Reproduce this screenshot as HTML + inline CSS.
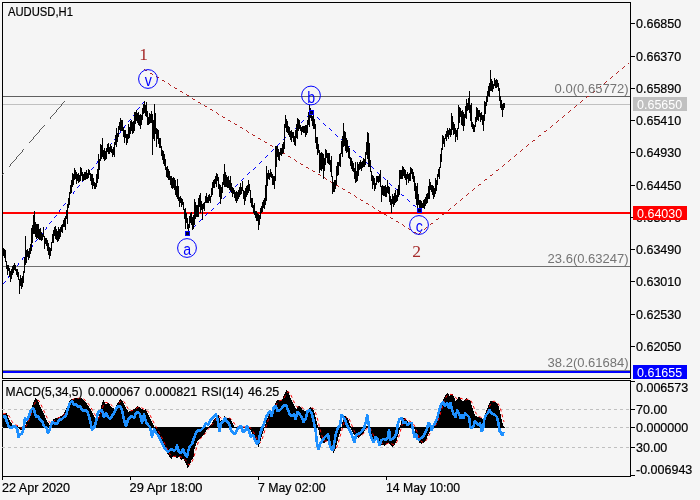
<!DOCTYPE html><html><head><meta charset="utf-8"><title>AUDUSD,H1</title>
<style>html,body{margin:0;padding:0;background:#f5f5f5}svg{display:block}text{font-family:"Liberation Sans",Arial,sans-serif;font-size:12.5px;stroke:#000;stroke-width:.2px}.s,.w,.g,.n{stroke:none}.s{font-family:"Liberation Serif","Times New Roman",serif;font-size:17.5px;fill:#a52a2a}.w{font-family:"Liberation Sans",Arial,sans-serif;font-size:16.5px;fill:#0000ff}.g{fill:#757575}</style></head><body>
<svg width="700" height="500" viewBox="0 0 700 500">
<rect width="700" height="500" fill="#f5f5f5"/>
<g shape-rendering="crispEdges" fill="none" stroke="#000" stroke-width="1">
<path d="M2.5 2V379M2 2.5H631M630.5 2V379M2 378.5H631"/>
<path d="M2.5 380V477M2 380.5H631M630.5 380V477M2 476.5H631"/>
<path d="M631 23.5H635"/>
<path d="M631 56.5H635"/>
<path d="M631 88.5H635"/>
<path d="M631 120.5H635"/>
<path d="M631 152.5H635"/>
<path d="M631 185.5H635"/>
<path d="M631 217.5H635"/>
<path d="M631 249.5H635"/>
<path d="M631 281.5H635"/>
<path d="M631 314.5H635"/>
<path d="M631 346.5H635"/>
<path d="M631 381.5H635"/>
<path d="M631 409.5H635"/>
<path d="M631 427.5H635"/>
<path d="M631 447.5H635"/>
<path d="M631 475.5H635"/>
<path d="M2.5 477V480"/>
<path d="M130.5 477V480"/>
<path d="M258.5 477V480"/>
<path d="M386.5 477V480"/>
</g>
<g shape-rendering="crispEdges">
<rect x="3" y="96" width="627" height="1" fill="#606060"/>
<rect x="3" y="104" width="627" height="1" fill="#c0c0c0"/>
<rect x="3" y="266" width="627" height="1" fill="#707070"/>
<rect x="3" y="370" width="627" height="1" fill="#808080"/>
<rect x="3" y="371" width="627" height="2" fill="#0000ff"/>
<rect x="3" y="212" width="627" height="2" fill="#ff0000"/>
<path d="M2 409.5H630M2 427.5H630M2 447.5H630" stroke="#c0c0c0" stroke-dasharray="3 3" fill="none"/>
</g>
<path d="M64 101.5h1M63 102.5h1M62 103.5h1M61 104.5h1M61 105.5h1M60 106.5h1M59 107.5h1M58 108.5h1M57 109.5h1M56 110.5h1M56 111.5h1M55 112.5h1M54 113.5h1M53 114.5h1M52 115.5h1M51 116.5h1M50 117.5h1M50 118.5h1M44 125.5h1M43 126.5h1M42 127.5h1M41 128.5h1M40 129.5h1M39 130.5h1M39 131.5h1M38 132.5h1M37 133.5h1M36 134.5h1M35 135.5h1M34 136.5h1M33 137.5h1M33 138.5h1M32 139.5h1M31 140.5h1M30 141.5h1M29 142.5h1M23 149.5h1M22 150.5h1M22 151.5h1M21 152.5h1M20 153.5h1M19 154.5h1M18 155.5h1M17 156.5h1M16 157.5h1M16 158.5h1M15 159.5h1M14 160.5h1M13 161.5h1M12 162.5h1M11 163.5h1M10 164.5h1M10 165.5h1M9 166.5h1M3 173.5h1M2 174.5h1" stroke="#5c5c5c" stroke-width="1" fill="none" shape-rendering="crispEdges"/>
<g fill="none" stroke-width="1" shape-rendering="crispEdges">
<path d="M3 283.5h1M4 282.5h1M5 281.5h1M8 277.5h1M8 276.5h1M9 275.5h1M12 271.5h1M13 270.5h1M14 269.5h1M17 265.5h1M18 264.5h1M18 263.5h1M22 259.5h1M22 258.5h1M23 257.5h1M26 253.5h1M27 252.5h1M28 251.5h1M31 247.5h1M32 246.5h1M32 245.5h1M35 241.5h1M36 240.5h1M37 239.5h1M40 235.5h1M41 234.5h1M42 233.5h1M45 229.5h1M46 228.5h1M46 227.5h1M49 223.5h1M50 222.5h1M51 221.5h1M54 217.5h1M55 216.5h1M56 215.5h1M59 211.5h1M59 210.5h1M60 209.5h1M63 205.5h1M64 204.5h1M65 203.5h1M68 199.5h1M69 198.5h1M69 197.5h1M73 193.5h1M73 192.5h1M74 191.5h1M77 187.5h1M78 186.5h1M79 185.5h1M82 181.5h1M83 180.5h1M83 179.5h1M86 175.5h1M87 174.5h1M88 173.5h1M91 169.5h1M92 168.5h1M93 167.5h1M96 163.5h1M97 162.5h1M97 161.5h1M100 157.5h1M101 156.5h1M102 155.5h1M105 151.5h1M106 150.5h1M107 149.5h1M110 145.5h1M110 144.5h1M111 143.5h1M114 139.5h1M115 138.5h1M116 137.5h1M119 133.5h1M120 132.5h1M120 131.5h1M124 127.5h1M124 126.5h1M125 125.5h1M128 121.5h1M129 120.5h1M130 119.5h1M133 115.5h1M134 114.5h1M134 113.5h1M137 109.5h1M138 108.5h1M139 107.5h1M142 103.5h1M143 102.5h1M144 101.5h1M187 233.5h1M188 232.5h1M189 231.5h1M193 227.5h1M194 226.5h1M195 225.5h1M199 221.5h1M200 220.5h1M201 219.5h1M205 215.5h1M206 214.5h1M207 213.5h1M211 210.5h1M212 209.5h1M213 208.5h1M217 204.5h1M218 203.5h1M219 202.5h1M223 198.5h1M224 197.5h1M225 196.5h1M229 192.5h1M230 191.5h1M231 190.5h1M235 186.5h1M236 185.5h1M237 184.5h1M241 180.5h1M242 179.5h1M243 178.5h1M247 174.5h1M248 173.5h1M249 172.5h1M253 169.5h1M254 168.5h1M255 167.5h1M259 163.5h1M260 162.5h1M261 161.5h1M265 157.5h1M266 156.5h1M267 155.5h1M271 151.5h1M272 150.5h1M273 149.5h1M277 145.5h1M278 144.5h1M279 143.5h1M283 139.5h1M284 138.5h1M285 137.5h1M289 133.5h1M290 132.5h1M291 132.5h1M295 128.5h1M296 127.5h1M297 126.5h1M301 122.5h1M302 121.5h1M303 120.5h1M307 116.5h1M308 115.5h1M309 114.5h1M311 112.5h1M312 113.5h1M313 114.5h1M317 117.5h1M318 118.5h1M319 119.5h1M323 123.5h1M324 124.5h1M325 125.5h1M329 128.5h1M330 129.5h1M331 130.5h1M335 134.5h1M336 135.5h1M337 136.5h1M341 139.5h1M342 140.5h1M343 141.5h1M347 145.5h1M348 146.5h1M349 146.5h1M353 150.5h1M354 151.5h1M355 152.5h1M359 156.5h1M360 156.5h1M361 157.5h1M365 161.5h1M366 162.5h1M367 163.5h1M371 166.5h1M372 167.5h1M373 168.5h1M377 172.5h1M378 173.5h1M379 174.5h1M383 177.5h1M384 178.5h1M385 179.5h1M389 183.5h1M390 184.5h1M391 185.5h1M395 188.5h1M396 189.5h1M397 190.5h1M401 194.5h1M402 195.5h1M403 195.5h1M407 199.5h1M408 200.5h1M409 201.5h1M413 205.5h1M414 205.5h1M415 206.5h1M419 210.5h1" stroke="#0000ff"/>
<path d="M144 69.5h1M145 70.5h1M146 70.5h1M150 73.5h1M151 73.5h1M152 74.5h1M156 76.5h1M157 77.5h1M158 77.5h1M162 80.5h1M163 80.5h1M164 81.5h1M168 83.5h1M169 84.5h1M170 85.5h1M174 87.5h1M175 88.5h1M176 88.5h1M180 91.5h1M181 91.5h1M182 92.5h1M186 94.5h1M187 95.5h1M188 95.5h1M192 98.5h1M193 99.5h1M194 99.5h1M198 102.5h1M199 102.5h1M200 103.5h1M204 105.5h1M205 106.5h1M206 106.5h1M210 109.5h1M211 109.5h1M212 110.5h1M216 112.5h1M217 113.5h1M218 114.5h1M222 116.5h1M223 117.5h1M224 117.5h1M228 120.5h1M229 120.5h1M230 121.5h1M234 123.5h1M235 124.5h1M236 124.5h1M240 127.5h1M241 127.5h1M242 128.5h1M246 130.5h1M247 131.5h1M248 132.5h1M252 134.5h1M253 135.5h1M254 135.5h1M258 138.5h1M259 138.5h1M260 139.5h1M264 141.5h1M265 142.5h1M266 142.5h1M270 145.5h1M271 145.5h1M272 146.5h1M276 148.5h1M277 149.5h1M278 150.5h1M282 152.5h1M283 153.5h1M284 153.5h1M288 156.5h1M289 156.5h1M290 157.5h1M294 159.5h1M295 160.5h1M296 161.5h1M300 163.5h1M301 164.5h1M302 164.5h1M306 167.5h1M307 167.5h1M308 168.5h1M312 170.5h1M313 171.5h1M314 171.5h1M318 174.5h1M319 174.5h1M320 175.5h1M324 177.5h1M325 178.5h1M326 179.5h1M330 181.5h1M331 182.5h1M332 182.5h1M336 185.5h1M337 185.5h1M338 186.5h1M342 188.5h1M343 189.5h1M344 189.5h1M348 192.5h1M349 192.5h1M350 193.5h1M354 195.5h1M355 196.5h1M356 197.5h1M360 199.5h1M361 200.5h1M362 200.5h1M366 203.5h1M367 203.5h1M368 204.5h1M372 206.5h1M373 207.5h1M374 208.5h1M378 210.5h1M379 211.5h1M380 211.5h1M384 214.5h1M385 214.5h1M386 215.5h1M390 217.5h1M391 218.5h1M392 218.5h1M396 221.5h1M397 221.5h1M398 222.5h1M402 224.5h1M403 225.5h1M404 226.5h1M408 228.5h1M409 229.5h1M410 229.5h1M414 232.5h1M415 232.5h1M416 233.5h1M418 234.5h1M419 233.5h1M420 232.5h1M424 229.5h1M425 228.5h1M426 227.5h1M430 224.5h1M431 223.5h1M432 223.5h1M436 219.5h1M437 219.5h1M438 218.5h1M442 214.5h1M443 214.5h1M444 213.5h1M448 210.5h1M449 209.5h1M450 208.5h1M454 205.5h1M455 204.5h1M456 203.5h1M460 200.5h1M461 199.5h1M462 198.5h1M466 195.5h1M467 194.5h1M468 193.5h1M472 190.5h1M473 189.5h1M474 188.5h1M478 185.5h1M479 184.5h1M480 184.5h1M484 180.5h1M485 179.5h1M486 179.5h1M490 175.5h1M491 175.5h1M492 174.5h1M496 170.5h1M497 170.5h1M498 169.5h1M502 166.5h1M503 165.5h1M504 164.5h1M508 161.5h1M509 160.5h1M510 159.5h1M514 156.5h1M515 155.5h1M516 154.5h1M520 151.5h1M521 150.5h1M522 149.5h1M526 146.5h1M527 145.5h1M528 144.5h1M532 141.5h1M533 140.5h1M534 140.5h1M538 136.5h1M539 135.5h1M540 135.5h1M544 131.5h1M545 131.5h1M546 130.5h1M550 127.5h1M551 126.5h1M552 125.5h1M556 122.5h1M557 121.5h1M558 120.5h1M562 117.5h1M563 116.5h1M564 115.5h1M568 112.5h1M569 111.5h1M570 110.5h1M574 107.5h1M575 106.5h1M576 105.5h1M580 102.5h1M581 101.5h1M582 100.5h1M586 97.5h1M587 96.5h1M588 96.5h1M592 92.5h1M593 92.5h1M594 91.5h1M598 87.5h1M599 87.5h1M600 86.5h1M604 83.5h1M605 82.5h1M606 81.5h1M610 78.5h1M611 77.5h1M612 76.5h1M616 73.5h1M617 72.5h1M618 71.5h1M622 68.5h1M623 67.5h1M624 66.5h1M628 63.5h1" stroke="#b22222"/>
</g>
<path d="M3.5 248V256M4.5 249V258M5.5 250V262M6.5 261V269M7.5 265V275M8.5 265V271M9.5 268V277M10.5 271V282M11.5 269V279M12.5 266V275M13.5 265V273M14.5 263V270M15.5 265V271M16.5 269V275M17.5 269V277M18.5 272V280M19.5 279V294M20.5 275V286M21.5 278V289M22.5 276V287M23.5 271V283M24.5 257V273M25.5 236V265M26.5 250V263M27.5 249V257M28.5 251V260M29.5 248V258M30.5 244V254M31.5 228V251M32.5 225V243M33.5 215V234M34.5 211V234M35.5 222V237M36.5 224V239M37.5 224V238M38.5 224V239M39.5 229V240M40.5 228V240M41.5 232V241M42.5 234V240M43.5 227V237M44.5 236V249M45.5 238V244M46.5 238V246M47.5 240V251M48.5 243V255M49.5 247V259M50.5 248V256M51.5 242V251M52.5 234V243M53.5 230V243M54.5 227V236M55.5 226V239M56.5 229V240M57.5 231V242M58.5 227V241M59.5 229V239M60.5 227V237M61.5 225V232M62.5 224V233M63.5 220V227M64.5 218V227M65.5 216V230M66.5 210V219M67.5 204V224M68.5 198V208M69.5 192V205M70.5 185V194M71.5 180V193M72.5 173V187M73.5 174V185M74.5 168V180M75.5 170V179M76.5 172V184M77.5 174V181M78.5 173V183M79.5 175V182M80.5 167V181M81.5 168V176M82.5 172V181M83.5 174V181M84.5 172V180M85.5 172V180M86.5 170V179M87.5 173V179M88.5 169V178M89.5 170V175M90.5 173V181M91.5 174V185M92.5 174V189M93.5 178V186M94.5 182V189M95.5 183V189M96.5 174V187M97.5 169V183M98.5 154V179M99.5 159V170M100.5 144V161M101.5 145V159M102.5 138V157M103.5 150V159M104.5 148V161M105.5 151V160M106.5 148V159M107.5 144V152M108.5 143V154M109.5 147V154M110.5 144V152M111.5 146V153M112.5 149V157M113.5 147V155M114.5 142V157M115.5 135V145M116.5 128V147M117.5 133V142M118.5 126V137M119.5 122V130M120.5 118V131M121.5 120V131M122.5 120V131M123.5 127V137M124.5 130V143M125.5 130V138M126.5 134V145M127.5 134V143M128.5 124V139M129.5 127V138M130.5 121V134M131.5 120V131M132.5 122V134M133.5 121V133M134.5 112V131M135.5 112V124M136.5 110V121M137.5 113V123M138.5 112V125M139.5 115V126M140.5 114V129M141.5 115V125M142.5 108V120M143.5 104V114M144.5 101V113M145.5 105V116M146.5 102V117M147.5 111V125M148.5 117V125M149.5 113V124M150.5 114V123M151.5 111V123M152.5 114V155M153.5 120V139M154.5 104V141M155.5 113V134M156.5 128V147M157.5 129V139M158.5 130V144M159.5 138V148M160.5 138V148M161.5 146V156M162.5 150V160M163.5 151V164M164.5 154V166M165.5 159V170M166.5 167V177M167.5 166V178M168.5 169V180M169.5 171V180M170.5 176V185M171.5 176V188M172.5 178V189M173.5 177V188M174.5 178V190M175.5 180V195M176.5 186V197M177.5 179V199M178.5 186V201M179.5 197V207M180.5 196V203M181.5 198V207M182.5 199V205M183.5 202V210M184.5 209V219M185.5 208V229M186.5 213V223M187.5 218V229M188.5 224V231M189.5 216V228M190.5 213V223M191.5 212V225M192.5 217V230M193.5 215V229M194.5 199V225M195.5 202V219M196.5 205V217M197.5 205V217M198.5 198V217M199.5 195V207M200.5 193V213M201.5 201V210M202.5 204V220M203.5 203V209M204.5 202V211M205.5 196V203M206.5 193V203M207.5 197V203M208.5 195V203M209.5 194V201M210.5 196V203M211.5 188V197M212.5 182V195M213.5 180V188M214.5 179V188M215.5 176V184M216.5 173V187M217.5 174V181M218.5 177V189M219.5 184V197M220.5 185V204M221.5 187V199M222.5 182V193M223.5 174V185M224.5 164V187M225.5 172V187M226.5 175V187M227.5 177V188M228.5 176V188M229.5 180V190M230.5 176V191M231.5 183V193M232.5 187V197M233.5 188V194M234.5 190V198M235.5 192V201M236.5 191V203M237.5 192V201M238.5 190V199M239.5 187V197M240.5 183V195M241.5 187V194M242.5 181V191M243.5 190V199M244.5 191V205M245.5 188V201M246.5 186V197M247.5 185V195M248.5 180V193M249.5 184V191M250.5 190V203M251.5 198V207M252.5 198V208M253.5 205V213M254.5 203V215M255.5 211V218M256.5 211V221M257.5 213V221M258.5 214V230M259.5 215V225M260.5 208V219M261.5 206V213M262.5 202V212M263.5 200V208M264.5 198V209M265.5 185V205M266.5 166V201M267.5 173V186M268.5 170V179M269.5 173V180M270.5 169V177M271.5 172V178M272.5 174V185M273.5 176V185M274.5 176V189M275.5 146V181M276.5 146V167M277.5 146V157M278.5 149V160M279.5 152V161M280.5 148V155M281.5 148V156M282.5 144V154M283.5 142V153M284.5 124V149M285.5 115V128M286.5 119V132M287.5 121V133M288.5 126V135M289.5 127V137M290.5 131V140M291.5 130V142M292.5 132V138M293.5 132V142M294.5 136V145M295.5 130V146M296.5 124V138M297.5 118V139M298.5 119V131M299.5 120V129M300.5 125V131M301.5 127V135M302.5 126V132M303.5 126V133M304.5 126V133M305.5 125V137M306.5 125V135M307.5 120V133M308.5 112V125M309.5 105V127M310.5 108V118M311.5 110V121M312.5 116V126M313.5 114V129M314.5 119V129M315.5 124V143M316.5 137V149M317.5 137V155M318.5 144V153M319.5 150V173M320.5 153V170M321.5 152V171M322.5 153V169M323.5 154V179M324.5 158V171M325.5 149V165M326.5 150V158M327.5 153V163M328.5 153V164M329.5 153V165M330.5 160V172M331.5 156V177M332.5 176V194M333.5 182V192M334.5 180V192M335.5 180V189M336.5 166V185M337.5 162V176M338.5 162V175M339.5 154V166M340.5 153V167M341.5 141V154M342.5 136V157M343.5 123V147M344.5 131V146M345.5 132V151M346.5 138V153M347.5 140V152M348.5 146V158M349.5 148V159M350.5 157V166M351.5 158V169M352.5 161V171M353.5 163V172M354.5 168V179M355.5 162V183M356.5 171V182M357.5 162V181M358.5 164V176M359.5 162V170M360.5 160V169M361.5 162V171M362.5 161V168M363.5 158V167M364.5 159V167M365.5 152V165M366.5 142V155M367.5 132V159M368.5 133V167M369.5 143V167M370.5 160V172M371.5 171V181M372.5 175V189M373.5 176V185M374.5 178V191M375.5 183V189M376.5 176V185M377.5 176V182M378.5 176V183M379.5 174V182M380.5 170V187M381.5 186V202M382.5 185V195M383.5 186V196M384.5 186V196M385.5 185V197M386.5 187V197M387.5 180V193M388.5 186V194M389.5 187V202M390.5 196V205M391.5 199V213M392.5 194V204M393.5 196V207M394.5 193V205M395.5 190V203M396.5 195V202M397.5 189V201M398.5 185V197M399.5 170V195M400.5 170V179M401.5 170V179M402.5 166V179M403.5 167V176M404.5 169V178M405.5 170V180M406.5 174V185M407.5 172V179M408.5 174V183M409.5 173V181M410.5 167V181M411.5 168V174M412.5 169V179M413.5 172V182M414.5 176V191M415.5 183V199M416.5 186V205M417.5 183V211M418.5 194V205M419.5 200V210M420.5 200V208M421.5 201V208M422.5 203V208M423.5 200V208M424.5 199V209M425.5 197V206M426.5 194V204M427.5 193V203M428.5 186V199M429.5 179V199M430.5 182V190M431.5 185V192M432.5 185V195M433.5 186V199M434.5 188V197M435.5 178V194M436.5 180V191M437.5 174V185M438.5 169V177M439.5 167V179M440.5 154V168M441.5 148V162M442.5 135V150M443.5 136V144M444.5 138V147M445.5 134V139M446.5 131V141M447.5 128V137M448.5 130V139M449.5 128V135M450.5 129V137M451.5 113V135M452.5 116V130M453.5 122V135M454.5 124V134M455.5 128V142M456.5 130V137M457.5 128V140M458.5 105V129M459.5 107V123M460.5 108V117M461.5 111V125M462.5 110V126M463.5 112V131M464.5 114V126M465.5 106V118M466.5 99V119M467.5 103V111M468.5 98V110M469.5 91V113M470.5 105V121M471.5 103V127M472.5 122V129M473.5 124V132M474.5 125V132M475.5 117V127M476.5 107V122M477.5 108V120M478.5 110V121M479.5 110V117M480.5 113V122M481.5 112V120M482.5 115V125M483.5 115V131M484.5 101V121M485.5 102V114M486.5 96V106M487.5 91V102M488.5 86V96M489.5 83V97M490.5 70V91M491.5 79V91M492.5 81V92M493.5 84V89M494.5 78V86M495.5 80V88M496.5 79V88M497.5 80V87M498.5 83V91M499.5 88V101M500.5 96V108M501.5 100V110M502.5 104V117M503.5 103V110M504.5 103V108" stroke="#000" stroke-width="1" fill="none" shape-rendering="crispEdges"/>
<rect x="185.5" y="231.5" width="4" height="4" fill="#000030" stroke="#0000ff" stroke-width="1" shape-rendering="crispEdges"/>
<rect x="309.5" y="110.5" width="4" height="4" fill="#000030" stroke="#0000ff" stroke-width="1" shape-rendering="crispEdges"/>
<rect x="417.5" y="208.5" width="4" height="4" fill="#000030" stroke="#0000ff" stroke-width="1" shape-rendering="crispEdges"/>
<circle cx="148" cy="79" r="9.4" fill="none" stroke="#0000ff" stroke-width="1"/>
<text class="w" transform="translate(148.3,85.5) scale(.86,1)" text-anchor="middle">v</text>
<circle cx="187" cy="248" r="9.4" fill="none" stroke="#0000ff" stroke-width="1"/>
<text class="w" transform="translate(187.3,254.5) scale(.86,1)" text-anchor="middle">a</text>
<circle cx="311" cy="95.5" r="9.4" fill="none" stroke="#0000ff" stroke-width="1"/>
<text class="w" transform="translate(311.3,102.5) scale(.86,1)" text-anchor="middle">b</text>
<circle cx="419" cy="225" r="9.4" fill="none" stroke="#0000ff" stroke-width="1"/>
<text class="w" transform="translate(419.3,231.5) scale(.86,1)" text-anchor="middle">c</text>
<text class="s" x="143.5" y="60" text-anchor="middle">1</text>
<text class="s" x="416.5" y="257" text-anchor="middle">2</text>
<path d="M3.5 414V428M4.5 414V428M5.5 413V428M6.5 413V428M7.5 415V428M8.5 418V428M9.5 420V428M10.5 422V428M11.5 423V428M12.5 425V428M13.5 425V428M14.5 425V428M15.5 425V428M16.5 426V428M17.5 426V428M18.5 427V428M19.5 427V429M20.5 427V430M21.5 427V430M22.5 427V430M23.5 427V429M24.5 427V428M25.5 425V428M26.5 422V428M27.5 420V428M28.5 417V428M29.5 415V428M30.5 412V428M31.5 409V428M32.5 405V428M33.5 402V428M34.5 400V428M35.5 398V428M36.5 399V428M37.5 400V428M38.5 402V428M39.5 405V428M40.5 407V428M41.5 409V428M42.5 411V428M43.5 413V428M44.5 415V428M45.5 418V428M46.5 420V428M47.5 422V428M48.5 423V428M49.5 425V428M50.5 424V428M51.5 423V428M52.5 421V428M53.5 419V428M54.5 419V428M55.5 418V428M56.5 418V428M57.5 418V428M58.5 417V428M59.5 417V428M60.5 416V428M61.5 416V428M62.5 415V428M63.5 414V428M64.5 412V428M65.5 410V428M66.5 408V428M67.5 406V428M68.5 404V428M69.5 401V428M70.5 400V428M71.5 399V428M72.5 399V428M73.5 399V428M74.5 398V428M75.5 398V428M76.5 398V428M77.5 398V428M78.5 398V428M79.5 398V428M80.5 398V428M81.5 398V428M82.5 399V428M83.5 400V428M84.5 401V428M85.5 402V428M86.5 403V428M87.5 405V428M88.5 406V428M89.5 408V428M90.5 409V428M91.5 411V428M92.5 413V428M93.5 415V428M94.5 417V428M95.5 418V428M96.5 419V428M97.5 420V428M98.5 417V428M99.5 414V428M100.5 410V428M101.5 405V428M102.5 402V428M103.5 400V428M104.5 402V428M105.5 404V428M106.5 404V428M107.5 403V428M108.5 403V428M109.5 404V428M110.5 406V428M111.5 407V428M112.5 408V428M113.5 408V428M114.5 409V428M115.5 407V428M116.5 405V428M117.5 403V428M118.5 402V428M119.5 400V428M120.5 399V428M121.5 400V428M122.5 401V428M123.5 403V428M124.5 405V428M125.5 407V428M126.5 409V428M127.5 410V428M128.5 412V428M129.5 411V428M130.5 411V428M131.5 410V428M132.5 410V428M133.5 409V428M134.5 409V428M135.5 408V428M136.5 407V428M137.5 406V428M138.5 407V428M139.5 407V428M140.5 408V428M141.5 409V428M142.5 409V428M143.5 410V428M144.5 410V428M145.5 409V428M146.5 411V428M147.5 413V428M148.5 415V428M149.5 417V428M150.5 419V428M151.5 421V428M152.5 423V428M153.5 425V428M154.5 427V428M155.5 427V430M156.5 427V431M157.5 427V433M158.5 427V435M159.5 427V437M160.5 427V439M161.5 427V441M162.5 427V443M163.5 427V445M164.5 427V447M165.5 427V450M166.5 427V452M167.5 427V454M168.5 427V455M169.5 427V457M170.5 427V458M171.5 427V459M172.5 427V457M173.5 427V456M174.5 427V457M175.5 427V457M176.5 427V458M177.5 427V458M178.5 427V457M179.5 427V457M180.5 427V459M181.5 427V460M182.5 427V459M183.5 427V459M184.5 427V461M185.5 427V463M186.5 427V465M187.5 427V468M188.5 427V467M189.5 427V465M190.5 427V463M191.5 427V460M192.5 427V459M193.5 427V457M194.5 427V449M195.5 427V446M196.5 427V443M197.5 427V441M198.5 427V440M199.5 427V439M200.5 427V438M201.5 427V437M202.5 427V436M203.5 427V435M204.5 427V434M205.5 427V432M206.5 427V430M207.5 427V429M208.5 427V428M209.5 426V428M210.5 425V428M211.5 424V428M212.5 422V428M213.5 420V428M214.5 419V428M215.5 418V428M216.5 416V428M217.5 416V428M218.5 415V428M219.5 418V428M220.5 421V428M221.5 420V428M222.5 420V428M223.5 418V428M224.5 416V428M225.5 417V428M226.5 418V428M227.5 418V428M228.5 418V428M229.5 418V428M230.5 419V428M231.5 421V428M232.5 423V428M233.5 425V428M234.5 427V428M235.5 427V428M236.5 427V428M237.5 427V428M238.5 427V428M239.5 427V428M240.5 427V428M241.5 427V428M242.5 427V428M243.5 427V428M244.5 427V428M245.5 427V428M246.5 427V428M247.5 427V428M248.5 427V428M249.5 427V429M250.5 427V430M251.5 427V432M252.5 427V434M253.5 427V436M254.5 427V438M255.5 427V440M256.5 427V442M257.5 427V445M258.5 427V447M259.5 427V444M260.5 427V441M261.5 427V437M262.5 427V434M263.5 427V431M264.5 427V428M265.5 424V428M266.5 420V428M267.5 418V428M268.5 415V428M269.5 414V428M270.5 412V428M271.5 411V428M272.5 410V428M273.5 408V428M274.5 405V428M275.5 403V428M276.5 401V428M277.5 400V428M278.5 400V428M279.5 400V428M280.5 401V428M281.5 400V428M282.5 399V428M283.5 396V428M284.5 394V428M285.5 392V428M286.5 390V428M287.5 391V428M288.5 392V428M289.5 395V428M290.5 398V428M291.5 400V428M292.5 402V428M293.5 404V428M294.5 406V428M295.5 408V428M296.5 409V428M297.5 407V428M298.5 406V428M299.5 406V428M300.5 407V428M301.5 408V428M302.5 410V428M303.5 410V428M304.5 411V428M305.5 411V428M306.5 410V428M307.5 410V428M308.5 409V428M309.5 408V428M310.5 407V428M311.5 408V428M312.5 408V428M313.5 410V428M314.5 413V428M315.5 417V428M316.5 421V428M317.5 425V428M318.5 427V430M319.5 427V435M320.5 427V438M321.5 427V441M322.5 427V442M323.5 427V443M324.5 427V443M325.5 427V442M326.5 427V441M327.5 427V441M328.5 427V443M329.5 427V445M330.5 427V447M331.5 427V450M332.5 427V451M333.5 427V453M334.5 427V451M335.5 427V449M336.5 427V445M337.5 427V441M338.5 427V437M339.5 427V434M340.5 427V431M341.5 427V428M342.5 422V428M343.5 418V428M344.5 416V428M345.5 416V428M346.5 417V428M347.5 418V428M348.5 420V428M349.5 423V428M350.5 426V428M351.5 427V430M352.5 427V432M353.5 427V434M354.5 427V435M355.5 427V436M356.5 427V437M357.5 427V437M358.5 427V438M359.5 427V437M360.5 427V436M361.5 427V435M362.5 427V434M363.5 427V433M364.5 427V431M365.5 427V429M366.5 426V428M367.5 426V428M368.5 427V428M369.5 427V431M370.5 427V433M371.5 427V435M372.5 427V438M373.5 427V439M374.5 427V441M375.5 427V441M376.5 427V440M377.5 427V441M378.5 427V442M379.5 427V443M380.5 427V445M381.5 427V445M382.5 427V445M383.5 427V445M384.5 427V446M385.5 427V445M386.5 427V444M387.5 427V443M388.5 427V443M389.5 427V444M390.5 427V445M391.5 427V446M392.5 427V447M393.5 427V446M394.5 427V445M395.5 427V443M396.5 427V441M397.5 427V437M398.5 427V434M399.5 427V430M400.5 425V428M401.5 420V428M402.5 419V428M403.5 418V428M404.5 418V428M405.5 419V428M406.5 420V428M407.5 421V428M408.5 422V428M409.5 422V428M410.5 422V428M411.5 423V428M412.5 425V428M413.5 426V428M414.5 427V429M415.5 427V433M416.5 427V436M417.5 427V439M418.5 427V441M419.5 427V443M420.5 427V443M421.5 427V444M422.5 427V443M423.5 427V443M424.5 427V442M425.5 427V441M426.5 427V439M427.5 427V436M428.5 427V434M429.5 427V432M430.5 427V431M431.5 427V429M432.5 427V429M433.5 427V428M434.5 425V428M435.5 423V428M436.5 421V428M437.5 419V428M438.5 416V428M439.5 412V428M440.5 408V428M441.5 404V428M442.5 402V428M443.5 399V428M444.5 397V428M445.5 395V428M446.5 394V428M447.5 393V428M448.5 394V428M449.5 396V428M450.5 395V428M451.5 394V428M452.5 394V428M453.5 396V428M454.5 398V428M455.5 401V428M456.5 400V428M457.5 399V428M458.5 397V428M459.5 397V428M460.5 398V428M461.5 400V428M462.5 401V428M463.5 401V428M464.5 400V428M465.5 399V428M466.5 398V428M467.5 399V428M468.5 400V428M469.5 400V428M470.5 401V428M471.5 405V428M472.5 408V428M473.5 411V428M474.5 414V428M475.5 416V428M476.5 416V428M477.5 417V428M478.5 417V428M479.5 417V428M480.5 418V428M481.5 418V428M482.5 419V428M483.5 418V428M484.5 416V428M485.5 413V428M486.5 410V428M487.5 408V428M488.5 405V428M489.5 403V428M490.5 401V428M491.5 401V428M492.5 401V428M493.5 401V428M494.5 402V428M495.5 402V428M496.5 403V428M497.5 404V428M498.5 406V428M499.5 410V428M500.5 414V428M501.5 419V428M502.5 423V428M503.5 426V428M504.5 427V428" stroke="#000" stroke-width="1" fill="none" shape-rendering="crispEdges"/>
<path d="M3 414.0 L4 413.8 L5 413.7 L6 413.5 L7 413.9 L8 414.6 L9 415.9 L10 417.5 L11 419.6 L12 421.5 L13 423.0 L14 424.0 L15 424.7 L16 425.1 L17 425.4 L18 425.8 L19 426.4 L20 427.2 L21 427.9 L22 428.4 L23 428.6 L24 428.4 L25 427.5 L26 426.2 L27 424.4 L28 422.3 L29 419.8 L30 417.3 L31 414.5 L32 411.6 L33 408.5 L34 405.6 L35 402.9 L36 401.0 L37 400.0 L38 400.0 L39 400.9 L40 402.6 L41 404.6 L42 406.8 L43 408.9 L44 411.1 L45 413.2 L46 415.4 L47 417.5 L48 419.6 L49 421.5 L50 422.8 L51 423.4 L52 423.3 L53 422.4 L54 421.1 L55 420.0 L56 419.0 L57 418.3 L58 418.0 L59 417.7 L60 417.3 L61 416.8 L62 416.3 L63 415.5 L64 414.5 L65 413.2 L66 411.7 L67 409.9 L68 407.9 L69 405.7 L70 403.7 L71 401.9 L72 400.5 L73 399.5 L74 399.0 L75 398.6 L76 398.5 L77 398.4 L78 398.4 L79 398.3 L80 398.2 L81 398.3 L82 398.4 L83 398.7 L84 399.3 L85 400.1 L86 401.1 L87 402.2 L88 403.4 L89 404.7 L90 406.2 L91 407.7 L92 409.4 L93 411.2 L94 413.1 L95 414.8 L96 416.4 L97 417.8 L98 418.2 L99 417.6 L100 415.9 L101 413.1 L102 409.6 L103 406.2 L104 403.8 L105 402.7 L106 402.4 L107 402.6 L108 403.2 L109 403.7 L110 404.0 L111 404.7 L112 405.5 L113 406.6 L114 407.5 L115 407.8 L116 407.4 L117 406.5 L118 405.1 L119 403.4 L120 401.8 L121 400.8 L122 400.4 L123 400.7 L124 401.6 L125 403.2 L126 404.9 L127 406.8 L128 408.6 L129 409.9 L130 410.6 L131 410.9 L132 410.7 L133 410.2 L134 409.7 L135 409.2 L136 408.6 L137 407.9 L138 407.3 L139 407.0 L140 407.0 L141 407.3 L142 408.0 L143 408.7 L144 409.1 L145 409.3 L146 409.8 L147 410.5 L148 411.5 L149 413.0 L150 415.0 L151 417.0 L152 419.0 L153 421.0 L154 423.0 L155 424.9 L156 426.8 L157 428.6 L158 430.4 L159 432.2 L160 434.1 L161 436.0 L162 438.0 L163 440.0 L164 442.1 L165 444.2 L166 446.4 L167 448.5 L168 450.6 L169 452.5 L170 454.2 L171 455.6 L172 456.4 L173 456.5 L174 456.4 L175 456.3 L176 456.1 L177 456.1 L178 456.4 L179 456.5 L180 456.7 L181 457.1 L182 457.5 L183 457.8 L184 458.6 L185 459.5 L186 460.6 L187 462.3 L188 464.0 L189 464.8 L190 464.7 L191 463.6 L192 461.7 L193 459.6 L194 456.4 L195 453.1 L196 449.7 L197 446.3 L198 442.9 L199 440.9 L200 439.3 L201 438.1 L202 437.0 L203 436.0 L204 435.0 L205 433.8 L206 432.4 L207 431.0 L208 429.6 L209 428.2 L210 427.0 L211 425.9 L212 424.7 L213 423.4 L214 422.0 L215 420.5 L216 419.0 L217 417.7 L218 416.6 L219 416.4 L220 417.1 L221 418.0 L222 418.9 L223 419.5 L224 419.1 L225 418.3 L226 417.8 L227 417.4 L228 417.4 L229 417.9 L230 418.3 L231 418.9 L232 419.9 L233 421.3 L234 423.0 L235 424.6 L236 425.8 L237 426.6 L238 427.0 L239 427.0 L240 427.0 L241 427.0 L242 427.0 L243 427.0 L244 427.0 L245 427.0 L246 427.0 L247 427.0 L248 427.0 L249 427.2 L250 427.6 L251 428.4 L252 429.6 L253 431.2 L254 433.0 L255 435.0 L256 437.0 L257 439.1 L258 441.3 L259 442.5 L260 442.7 L261 441.8 L262 439.7 L263 436.5 L264 433.3 L265 430.0 L266 426.7 L267 423.6 L268 420.6 L269 417.9 L270 415.6 L271 413.8 L272 412.3 L273 410.8 L274 409.1 L275 407.3 L276 405.3 L277 403.4 L278 401.9 L279 401.0 L280 400.6 L281 400.4 L282 400.1 L283 399.4 L284 398.1 L285 396.3 L286 394.3 L287 392.7 L288 391.8 L289 392.0 L290 393.2 L291 395.2 L292 397.4 L293 399.8 L294 402.0 L295 403.9 L296 405.7 L297 406.8 L298 407.1 L299 407.1 L300 406.9 L301 406.9 L302 407.4 L303 408.3 L304 409.3 L305 410.1 L306 410.5 L307 410.4 L308 410.1 L309 409.6 L310 408.8 L311 408.2 L312 407.9 L313 408.2 L314 409.2 L315 411.2 L316 413.9 L317 417.2 L318 420.9 L319 425.1 L320 429.1 L321 432.9 L322 436.2 L323 438.8 L324 440.3 L325 441.1 L326 441.2 L327 441.0 L328 441.0 L329 441.5 L330 442.6 L331 444.3 L332 446.4 L333 448.2 L334 449.6 L335 449.9 L336 448.9 L337 446.8 L338 443.8 L339 440.3 L340 436.7 L341 433.3 L342 429.7 L343 426.1 L344 422.7 L345 419.8 L346 417.7 L347 417.0 L348 417.3 L349 418.7 L350 420.7 L351 423.1 L352 425.7 L353 428.2 L354 430.5 L355 432.4 L356 433.9 L357 434.9 L358 435.7 L359 436.1 L360 436.1 L361 435.9 L362 435.3 L363 434.3 L364 433.0 L365 431.4 L366 429.7 L367 428.2 L368 427.2 L369 427.2 L370 428.0 L371 429.8 L372 432.0 L373 434.3 L374 436.4 L375 437.9 L376 438.8 L377 439.4 L378 439.9 L379 440.4 L380 441.3 L381 442.3 L382 443.1 L383 443.8 L384 444.3 L385 444.3 L386 444.1 L387 443.8 L388 443.3 L389 442.9 L390 442.9 L391 443.3 L392 444.0 L393 444.6 L394 444.8 L395 444.4 L396 443.4 L397 441.5 L398 439.1 L399 436.1 L400 432.8 L401 428.8 L402 425.2 L403 422.2 L404 420.1 L405 418.9 L406 418.9 L407 419.3 L408 420.0 L409 420.7 L410 421.4 L411 422.0 L412 422.7 L413 423.6 L414 424.9 L415 426.8 L416 429.2 L417 431.9 L418 434.7 L419 437.4 L420 439.5 L421 441.1 L422 442.0 L423 442.4 L424 442.2 L425 441.7 L426 440.6 L427 439.1 L428 437.3 L429 435.3 L430 433.2 L431 431.3 L432 429.8 L433 428.6 L434 427.4 L435 426.1 L436 424.7 L437 423.0 L438 420.7 L439 418.1 L440 415.1 L441 411.7 L442 408.2 L443 404.9 L444 401.9 L445 399.3 L446 397.3 L447 395.6 L448 394.7 L449 394.5 L450 394.4 L451 394.4 L452 394.6 L453 394.9 L454 395.4 L455 396.6 L456 397.9 L457 398.9 L458 399.2 L459 398.9 L460 398.4 L461 398.3 L462 398.6 L463 399.3 L464 399.9 L465 400.1 L466 399.9 L467 399.5 L468 399.2 L469 399.3 L470 399.6 L471 400.9 L472 402.8 L473 405.1 L474 407.8 L475 410.8 L476 413.2 L477 414.9 L478 416.1 L479 416.7 L480 417.0 L481 417.3 L482 417.8 L483 418.1 L484 417.9 L485 417.0 L486 415.4 L487 413.0 L488 410.3 L489 407.7 L490 405.3 L491 403.5 L492 402.2 L493 401.5 L494 401.2 L495 401.4 L496 401.8 L497 402.5 L498 403.5 L499 405.1 L500 407.4 L501 410.6 L502 414.4 L503 418.4 L504 421.9" stroke="#ff0000" stroke-width="1" stroke-dasharray="3 3" fill="none"/>
<path d="M3 417 L5 416 L7 422 L9 427 L11 428 L14 426 L17 428 L18.4 437 L20 434 L22 434 L23.6 428 L25 418 L27 420 L29 416 L31 410 L33 408 L34.4 411 L36 417 L38 416 L40 420 L42 421 L44 426 L46.4 428 L48 433 L50 429 L52 422 L54 423 L57 424 L59 420 L62 419 L64 417 L66 416 L68 408 L70 403 L72 401 L74 405 L76 404 L78 407 L80 406 L82 410 L84 411 L86 410 L88 413 L90 420 L92 430 L94 428 L96 422 L98 412 L100 411 L102 410 L104 417 L106 413 L108 417 L110 419 L112 416 L114 413 L116 409 L118 406 L120 406 L122 410 L124 420 L126 426 L128 420 L130 417 L132 416 L134 418 L136 413 L138 412 L140 414 L142 423 L144 414 L146 422 L148 425 L150 427 L152 437 L154 429 L156 433 L158 435 L160 439 L162 443 L164 447 L166 450 L168 452 L170 450 L172 449 L174 451 L176 449 L177 445 L179 452 L181 453 L183 449 L185 454 L187 457 L188.4 450 L190 446 L192 444 L194 438 L196 433 L198 430 L200 431 L202 429 L204 427 L206 423 L208 425 L210 421 L212 418 L214 417 L216 414 L217.6 420 L219.6 431 L221 423 L223 422 L225 418 L227 422 L229 423 L231 430 L233 433 L235 434 L237 430 L239 427 L241 426 L243 432 L245 431 L247 426 L249 431 L251 437 L253 435 L255 440 L257 444 L258.4 442 L260 434 L262 428 L264 424 L266 417 L268 414 L270 411 L271.6 416 L273.6 408 L275.6 406 L277.6 411 L280 410 L282 408 L284 405 L286 405 L288 410 L290 415 L292 416 L294 414 L295.6 419 L297.6 412 L299.6 414 L301.6 417 L303.6 422 L305.6 419 L307.6 411 L309.6 410 L311.6 413 L313.6 421 L315.6 430 L317 444 L318.4 449 L320 444 L322 441 L324 438 L326 436 L328 434 L329.6 444 L331.2 449 L333 450 L334.4 442 L336 433 L338 428 L340 425 L341.6 415 L343.2 417 L345 420 L347 425 L349 429 L351 433 L353 438 L354.4 442 L356 435 L358 434 L360 433 L362 431 L364 428 L365.6 423 L367.2 415 L368.6 423 L370 434 L372 439 L373.6 442 L375.6 437 L377.6 439 L379.6 445 L381.6 440 L383.6 439 L385.6 440 L387.6 438 L389 430 L390.4 440 L392.4 439 L394.4 437 L396.4 433 L398 423 L399.6 419 L401.6 418 L403.6 423 L405.6 422 L407.6 425 L409.6 423 L411.6 423 L413 430 L414.4 437 L416 434 L417.6 439 L419.2 440 L421 438 L423 437 L425 433 L427 429 L428.4 423 L430 424 L431.6 430 L433.2 426 L435 423 L437 419 L439 411 L441 405 L443 402 L445 406 L447 403 L449 408 L450.6 403 L452.4 411 L454 415 L455.6 417 L457.2 410 L458.8 413 L460.4 418 L462 415 L463.6 418 L465.2 413 L467 415 L469 417 L470.4 427 L472 428 L473.6 426 L475 421 L476.6 423 L478.4 425 L480 423 L481.6 431 L483 429 L484.4 419 L486 415 L488 413 L489.6 410 L491.2 413 L493 414 L495 415 L497 417 L498.4 423 L499.6 431 L501 433 L502.4 435 L503.6 432" stroke="#1e90ff" stroke-width="2.6" fill="none" stroke-linejoin="round" shape-rendering="crispEdges"/>
<text x="8" y="16" textLength="65" lengthAdjust="spacingAndGlyphs">AUDUSD,H1</text>
<text y="396"><tspan x="5.6" textLength="77" lengthAdjust="spacingAndGlyphs">MACD(5,34,5)</tspan> <tspan x="88">0.000067</tspan> <tspan x="145">0.000821</tspan> <tspan x="201.6" textLength="42" lengthAdjust="spacingAndGlyphs">RSI(14)</tspan> <tspan x="248">46.25</tspan></text>
<text x="636" y="28">0.66850</text>
<text x="636" y="61">0.66370</text>
<text x="636" y="93">0.65890</text>
<text x="636" y="125">0.65410</text>
<text x="636" y="157">0.64930</text>
<text x="636" y="190">0.64450</text>
<text x="636" y="222">0.63970</text>
<text x="636" y="254">0.63490</text>
<text x="636" y="286">0.63010</text>
<text x="636" y="319">0.62530</text>
<text x="636" y="351">0.62050</text>
<text x="636" y="392">0.006573</text>
<text x="636" y="414">70.00</text>
<text x="636" y="432">0.000000</text>
<text x="636" y="452">30.00</text>
<text x="636" y="474">-0.006943</text>
<text x="2" y="492" textLength="68" lengthAdjust="spacingAndGlyphs">22 Apr 2020</text>
<text x="129.5" y="492" textLength="73" lengthAdjust="spacingAndGlyphs">29 Apr 18:00</text>
<text x="258" y="492" textLength="67.6" lengthAdjust="spacingAndGlyphs">7 May 02:00</text>
<text x="386" y="492" textLength="74" lengthAdjust="spacingAndGlyphs">14 May 10:00</text>
<text class="g" x="554.6" y="93" textLength="74" lengthAdjust="spacingAndGlyphs">0.0(0.65772)</text>
<text class="g" x="547.6" y="263" textLength="81" lengthAdjust="spacingAndGlyphs">23.6(0.63247)</text>
<text class="g" x="547.6" y="367" textLength="81" lengthAdjust="spacingAndGlyphs">38.2(0.61684)</text>
<g shape-rendering="crispEdges">
<rect x="633" y="97" width="54" height="14" fill="#c0c0c0"/>
<rect x="633" y="206" width="54" height="14" fill="#ff0000"/>
<rect x="633" y="365" width="54" height="14" fill="#0000ff"/>
</g>
<text x="637" y="109" fill="#fff" class="n">0.65650</text>
<text x="637" y="218" fill="#fff" class="n">0.64030</text>
<text x="637" y="377" fill="#fff" class="n">0.61655</text>
</svg></body></html>
